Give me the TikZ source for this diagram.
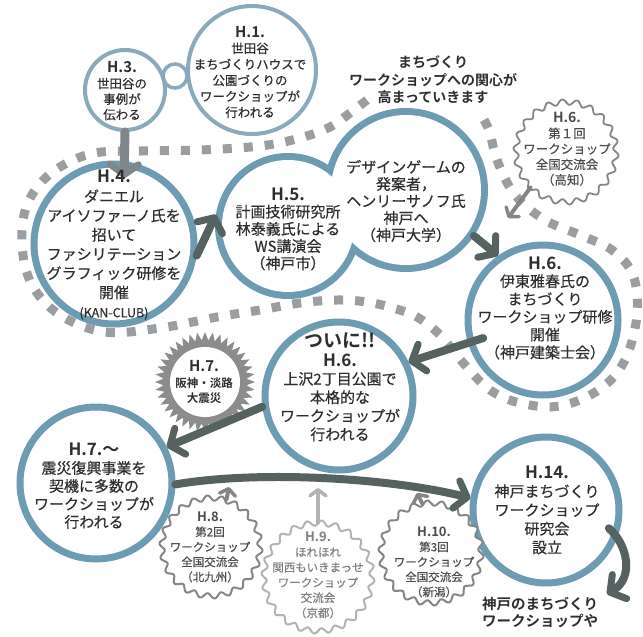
\documentclass[tikz,border=0pt]{standalone}
\usepackage{fontspec}
\newfontfamily\jp{Noto Sans CJK JP}[FakeBold=0.35, BoldFont={Noto Sans CJK JP Bold}, BoldFeatures={FakeBold=0}]
\usetikzlibrary{arrows.meta,shapes.geometric,calc}
\definecolor{ringblue}{HTML}{6D9BB2}
\definecolor{ringlight}{HTML}{8AAABB}
\definecolor{arrdark}{HTML}{55625F}
\definecolor{arrgray}{HTML}{80878A}
\definecolor{dotgray}{HTML}{9A9EA0}
\definecolor{txt}{HTML}{2E2E2E}
\definecolor{wave}{HTML}{858585}
\definecolor{wavelight}{HTML}{B3B3B3}
\definecolor{spike}{HTML}{8C8C8C}
\newcommand\hdr[2]{{\fontsize{#1}{#1}\selectfont\bfseries #2}}
\newcommand\wavyline[5]{%
  \draw[#5] plot[domain=0:360, samples=721, variable=\t]
   ({#1+(#3+2.6*sin(#4*\t))*cos(\t)}, {#2+(#3+2.6*sin(#4*\t))*sin(\t)}) -- cycle;}
\tikzset{
  ring/.style={circle, draw=ringblue, line width=7pt, inner sep=0pt, fill=white},
  thinring/.style={circle, draw=ringlight, line width=4pt, inner sep=0pt, fill=white},
  blobc/.style={circle, draw=ringblue, line width=14pt, inner sep=0pt},
  shapenode/.style={circle, inner sep=0pt},
  tx/.style={align=center, text=txt, inner sep=0pt},
  dotline/.style={draw=dotgray, line width=9pt, dash pattern=on 9pt off 12pt},
  bigarrow/.style={draw=arrdark, line width=8pt, line cap=round,
     -{Straight Barb[round, length=11pt, width=28pt, line width=7pt]}},
  grayarrow/.style={draw=arrgray, line width=9pt, line cap=round,
     -{Straight Barb[round, length=10pt, width=28pt, line width=7pt]}},
  thinarrow/.style={line width=4pt, line cap=round,
     -{Straight Barb[round, length=6pt, width=16pt, line width=3.5pt]}},
}
\begin{document}
\begin{tikzpicture}[x=1pt,y=-1pt]
\useasboundingbox (0,0) rectangle (643,637);
\fill[white] (0,0) rectangle (643,637);

% dotted serpentine
\draw[dotline] plot[smooth, tension=0.6] coordinates {
 (367,100) (350,113) (330,127) (300,138) (260,146) (200,150) (140,151) (90,154) (50,174)
 (27,205) (22,245) (32,285) (60,315) (105,332) (160,328) (217,317) (260,310) (300,303)
 (337,300) (367,302) (393,308) (417,317) (440,335) (465,365) (490,390) (520,403)
 (560,406) (600,389) (625,360) (637,315) (633,275) (612,250) (580,235) (545,220)
 (515,195) (497,160) (489,130) (478,110)};

% top circles
\node[thinring, line width=3.5pt, minimum size=24pt] (link) at (175,76) {};
\node[thinring, minimum size=80pt] (h3) at (125,90) {};
\node[thinring, minimum size=128pt] (h1) at (252,70) {};

% main rings
\node[ring, minimum size=160pt] (h4) at (114,244) {};
\node[blobc, minimum size=132pt] (h5) at (288,226) {};
\node[blobc, minimum size=150pt] (hy) at (406,190) {};
\fill[white] (h5.center) circle (66) (hy.center) circle (75);
\node[ring, minimum size=150pt] (h6r) at (543,320) {};
\node[ring, minimum size=148pt] (tsu) at (339,396) {};
\node[ring, minimum size=152pt] (h7) at (96,483) {};
\node[ring, minimum size=146pt] (h14) at (546,510) {};

% starbursts
\node[shapenode, minimum size=100pt] (k6) at (566,152) {};
\wavyline{566}{152}{50}{22}{draw=wave, line width=1.8pt, fill=white}
\node[star, star points=40, star point ratio=1.2, fill=spike, minimum size=100pt, inner sep=0pt] (h7s) at (205,382) {};
\node[circle, fill=white, minimum size=70pt, inner sep=0pt] (h7q) at (205,382) {};
\node[shapenode, minimum size=100pt] (h8) at (211,547) {};
\wavyline{211}{547}{49}{22}{draw=wave, line width=2pt, fill=white}
\node[shapenode, minimum size=108pt] (h9) at (318,577) {};
\wavyline{318}{577}{54}{24}{draw=wavelight, line width=2pt, fill=white}
\node[shapenode, minimum size=100pt] (h10) at (431,553) {};
\wavyline{431}{553}{50}{22}{draw=wave, line width=2pt, fill=white}

% connectors
\coordinate (a34) at (124,178);
\coordinate (k6end) at (508,218);
\coordinate (a8) at (229,487);
\coordinate (a9) at (318,488);
\coordinate (a10) at (417,493);
\coordinate (a14) at (607,594);
\draw[grayarrow] (h3.south) -- (a34);
\draw[bigarrow] (h4.-8) -- (h5.171);
\draw[bigarrow] (hy.-34) -- (h6r.125);
\draw[thinarrow, draw=wave] (k6.-135) -- (k6end);
\draw[bigarrow, shorten <=-16pt] (h6r.197) -- (tsu.26);
\draw[bigarrow] (tsu.188) -- (h7.27);
\draw[thinarrow, draw=wave] (h8.72) -- (a8);
\draw[thinarrow, draw=wavelight] (h9.north) -- (a9);
\draw[thinarrow, draw=wave] (h10.100) -- (a10);
\draw[bigarrow] (h7.-1) .. controls (260,470) and (390,478) .. (h14.171);
\draw[bigarrow, shorten <=-12pt] (h14.-20) .. controls (628,545) and (634,578) .. (a14);

% texts
\node[tx, font=\jp\fontsize{12.5}{15.5}\selectfont] (h3t) at (122,91)
 {\hdr{15}{H.3.}\\世田谷の\\事例が\\伝わる};
\node[tx, font=\jp\fontsize{12.5}{16}\selectfont] (h1t) at (250,72)
 {\hdr{15}{H.1.}\\世田谷\\まちづくりハウスで\\公園づくりの\\ワークショップが\\行われる};
\node[tx, font=\jp\bfseries\fontsize{14}{17.5}\selectfont] (title) at (433,80)
 {まちづくり\\ワークショップへの関心が\\高まっていきます};
\node[tx, font=\jp\fontsize{15}{19.2}\selectfont] (h4t) at (114,245)
 {\hdr{17}{H.4.}\\ダニエル\\アイソファーノ氏を\\招いて\\ファシリテーション\\グラフィック研修を\\開催\\{\fontsize{12.5}{12}\selectfont (KAN-CLUB)}};
\node[tx, font=\jp\fontsize{15}{17.2}\selectfont] (h5t) at (288,229)
 {\hdr{17}{H.5.}\\計画技術研究所\\林泰義氏による\\WS講演会\\（神戸市）};
\node[tx, font=\jp\fontsize{15}{17}\selectfont] (hyt) at (406,201)
 {デザインゲームの\\発案者，\\ヘンリーサノフ氏\\神戸へ\\（神戸大学）};
\node[tx, font=\jp\fontsize{15}{17.8}\selectfont] (h6rt) at (545,308)
 {\hdr{17}{H.6.}\\伊東雅春氏の\\まちづくり\\ワークショップ研修\\開催\\（神戸建築士会）};
\node[tx, font=\jp\fontsize{15}{18.5}\selectfont] (tsut) at (340,387)
 {\hdr{19}{ついに!!}\\\hdr{17}{H.6.}\\上沢2丁目公園で\\本格的な\\ワークショップが\\行われる};
\node[tx, font=\jp\fontsize{15}{18}\selectfont] (h7t) at (94,486)
 {\hdr{17}{H.7.〜}\\震災復興事業を\\契機に多数の\\ワークショップが\\行われる};
\node[tx, font=\jp\fontsize{15}{18.7}\selectfont] (h14t) at (547,510)
 {\hdr{17}{H.14.}\\神戸まちづくり\\ワークショップ\\研究会\\設立};
\node[tx, text=txt!85, font=\jp\fontsize{12.5}{15.5}\selectfont] (k6t) at (567,149)
 {\hdr{14}{H.6.}\\第１回\\ワークショップ\\全国交流会\\（高知）};
\node[tx, font=\jp\bfseries\fontsize{11.5}{15.5}\selectfont] (h7st) at (204,382)
 {\hdr{15}{H.7.}\\阪神・淡路\\大震災};
\node[tx, text=txt!85, font=\jp\fontsize{11.5}{15}\selectfont] (h8t) at (210,547)
 {\hdr{13}{H.8.}\\第2回\\ワークショップ\\全国交流会\\（北九州）};
\node[tx, text=black!50, font=\jp\fontsize{11.5}{15.2}\selectfont] (h9t) at (318,575)
 {\hdr{13}{H.9.}\\ほれほれ\\関西もいきまっせ\\ワークショップ\\交流会\\（京都）};
\node[tx, text=txt!85, font=\jp\fontsize{11.5}{15}\selectfont] (h10t) at (434,562)
 {\hdr{13}{H.10.}\\第3回\\ワークショップ\\全国交流会\\（新潟）};
\node[tx, font=\jp\bfseries\fontsize{14.5}{17}\selectfont] (bt) at (540,613)
 {神戸のまちづくり\\ワークショップや};
\end{tikzpicture}
\end{document}
